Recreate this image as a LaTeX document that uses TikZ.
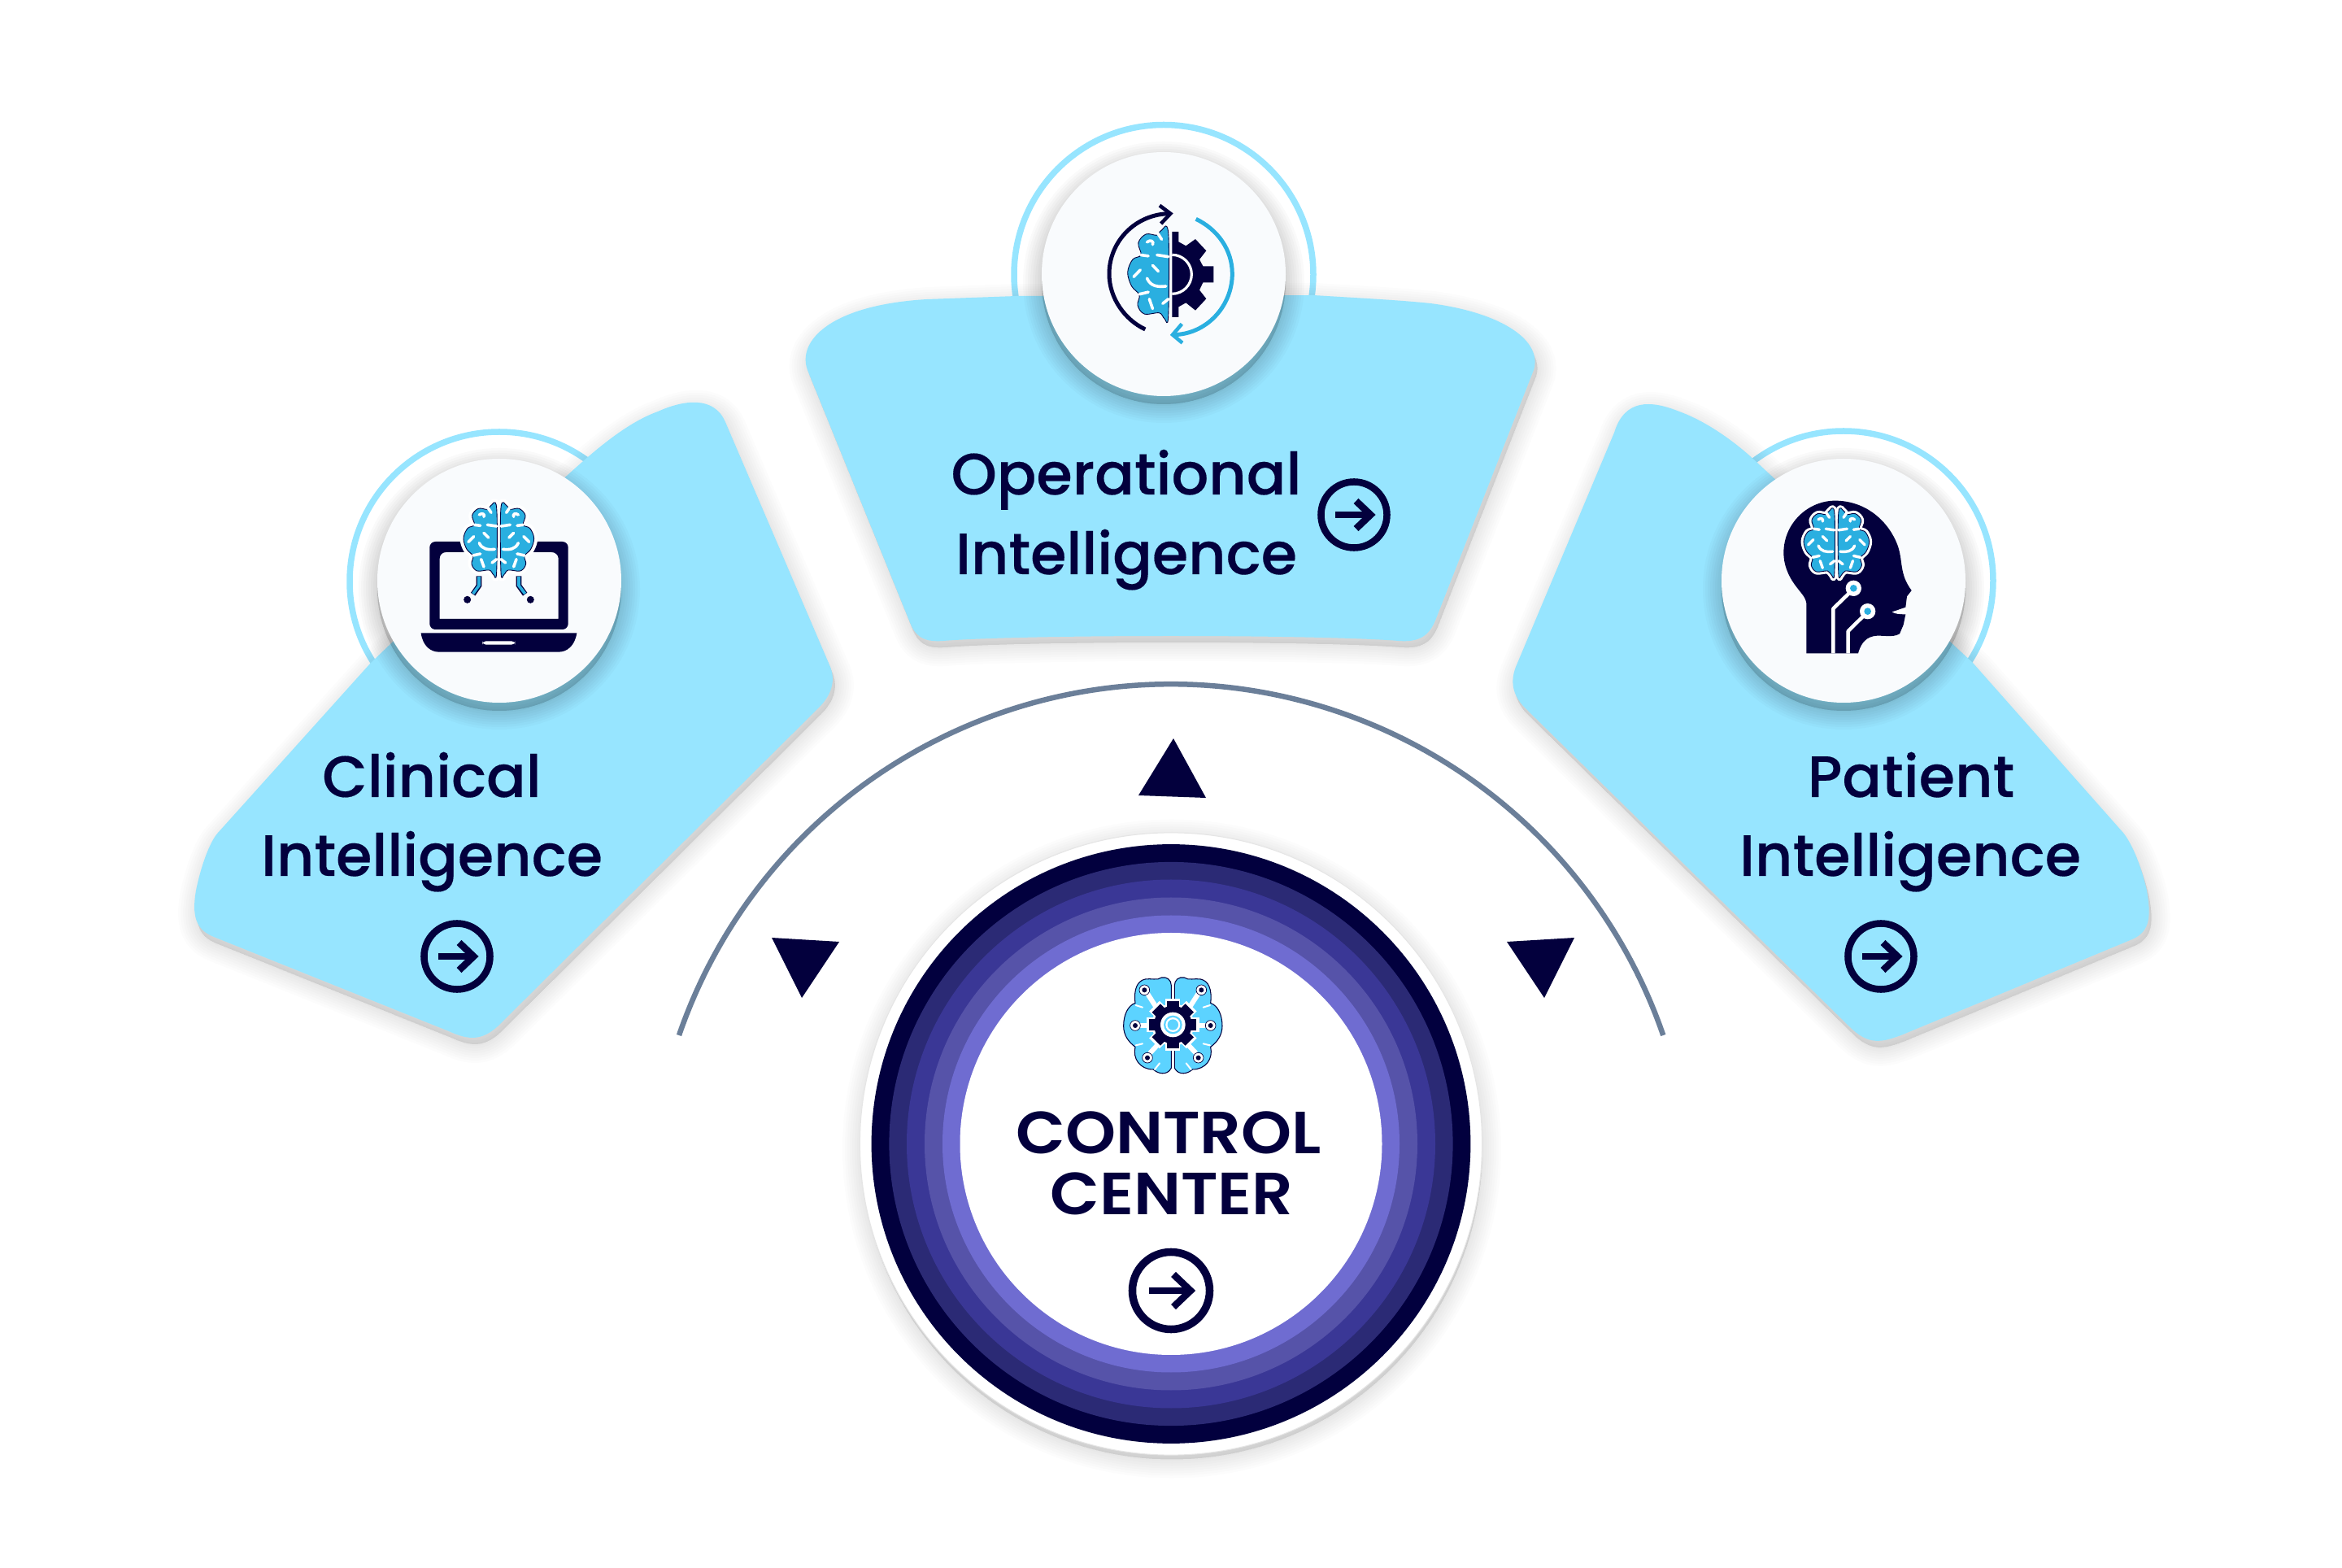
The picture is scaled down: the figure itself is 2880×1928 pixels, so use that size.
\documentclass[tikz,border=0pt]{standalone}
\usepackage{fontspec}
\setmainfont{Poppins}[UprightFont={* Medium},BoldFont={* SemiBold},UprightFeatures={FakeBold=0.25}]
\def\PX{0.28453pt}
\definecolor{navy}{HTML}{03003D}
\definecolor{sky}{HTML}{97E5FF}
\definecolor{paper}{HTML}{F9FBFD}
\definecolor{arcgray}{HTML}{6B7F99}
\definecolor{brainblue}{HTML}{2AAFE0}
\definecolor{brainlight}{HTML}{5CD3FF}
\definecolor{ringa}{HTML}{02003E}
\definecolor{ringb}{HTML}{2B2A75}
\definecolor{ringc}{HTML}{3A3796}
\definecolor{ringd}{HTML}{5653A9}
\definecolor{ringe}{HTML}{6F6CD1}
\tikzset{
  lbl/.style={anchor=base,text=navy,inner sep=0pt,font=\fontsize{20.4pt}{24pt}\selectfont},
  cclbl/.style={anchor=base,text=navy,inner sep=0pt,font=\fontsize{20.8pt}{24pt}\bfseries\selectfont},
  outerring/.style={draw=sky,line width=7.5*\PX,fill=white},
  disc/.style={fill=paper},
  btn/.style={circle,draw=navy,inner sep=0pt},
  wiggle/.style={white,line width=3.6*\PX,line cap=round,line join=round},
  arrowstroke/.style={navy,line width=#1*\PX,miter limit=10},
}
% ---- soft shadow: #1 path, #2 dx, #3 dy, #4 opacity
\newcommand\softshadow[4]{%
  \begin{scope}[shift={(#2,#3)}]
  \foreach \w in {46,40,34,28,22,16,10,4}{
    \filldraw[black,opacity=#4,line width=\w*\PX,line join=round] #1;
  }
  \end{scope}}
% ---- blob outlines
\newcommand\blobClin{(892,519) -- (1021,820) .. controls (1028,838) and (1022,855) .. (1007,870) -- (612,1262) .. controls (592,1280) and (576,1279) .. (552,1268) -- (263,1152) .. controls (240,1143) and (236,1125) .. (241,1095) .. controls (247,1065) and (258,1035) .. (268,1024) -- (456,815) -- (697,585) .. controls (730,555) and (770,520) .. (809,506) .. controls (840,492) and (878,486) .. (892,519) -- cycle}
\newcommand\blobOper{(993,455) .. controls (980,420) and (1020,375) .. (1140,368) -- (1250,364) -- (1615,363) .. controls (1680,367) and (1720,369) .. (1759,373) .. controls (1850,385) and (1897,420) .. (1886,455) -- (1765,763) .. controls (1757,782) and (1745,790) .. (1720,788) .. controls (1620,780) and (1260,780) .. (1160,788) .. controls (1135,790) and (1125,782) .. (1118,763) -- cycle}
\newcommand\blobPati{(1985,532) -- (1864,820) .. controls (1857,838) and (1860,855) .. (1875,870) -- (2274,1262) .. controls (2298,1286) and (2314,1282) .. (2340,1272) -- (2622,1155) .. controls (2645,1145) and (2645,1125) .. (2640,1095) .. controls (2632,1060) and (2620,1035) .. (2611,1024) -- (2426,815) -- (2161,569) .. controls (2125,535) and (2090,515) .. (2065,506) .. controls (2030,492) and (1998,490) .. (1985,532) -- cycle}
% ---- brain hemisphere, local coords: 3x-zoom units, mid line x=0
\newcommand\hemipath{plot[smooth cycle,tension=.6] coordinates {(-8,-118) (-30,-125) (-42,-112) (-75,-115) (-98,-90) (-90,-55) (-115,-42) (-130,-5) (-118,35) (-95,60) (-100,90) (-80,115) (-35,112) (-20,128) (-8,120)}}
\newcommand\hemisphere[1]{%
  \filldraw[fill=brainblue,draw=navy,line width=.25pt] \hemipath;
  \begin{scope}[wiggle,line width=#1*\PX]
    \draw (-72,-92) .. controls (-62,-100) and (-50,-95) .. (-55,-85);
    \draw (-90,-55) -- (-68,-52);
    \draw (-40,-118) -- (-28,-100);
    \draw (-42,-55) -- (-8,-50);
    \draw (-55,-25) -- (-38,-8);
    \draw (-112,8) -- (-92,-12);
    \draw (-72,12) .. controls (-62,35) and (-40,38) .. (-15,35);
    \draw (-95,58) -- (-68,52);
    \draw (-65,72) -- (-55,100);
    \draw (-25,85) -- (-8,72);
  \end{scope}}
% #1 x, #2 y, #3 scale, #4 halo (px), #5 wiggle width
\newcommand\brainboth[5]{%
  \begin{scope}[shift={(#1,#2)},scale=#3]
    \draw[white,line width=#4*\PX,line join=round] \hemipath;
    \begin{scope}[xscale=-1]\draw[white,line width=#4*\PX,line join=round] \hemipath;\end{scope}
    \fill[white] (-12,-110) rectangle (12,110);
    \hemisphere{#5}
    \begin{scope}[xscale=-1]\hemisphere{#5}\end{scope}
  \end{scope}}
\newcommand\arrowmark[3]{% x, y, unit
  \begin{scope}[shift={(#1,#2)},scale=#3]
    \draw[arrowstroke=8.5] (-27,0) -- (24,0);
    \draw[arrowstroke=8.5] (3,-20) -- (24,0) -- (3,20);
  \end{scope}}
\begin{document}
\begin{tikzpicture}[x=0.01cm,y=-0.01cm]
\useasboundingbox (0,0) rectangle (2880,1928);
\fill[white] (0,0) rectangle (2880,1928);
% outer rings
\draw[outerring] (1431,337.5) circle[radius=184];
\draw[outerring] (614,715) circle[radius=184];
\draw[outerring] (2267,714) circle[radius=184];
% blobs
\softshadow{\blobClin}{3}{8}{0.011}
\softshadow{\blobOper}{3}{8}{0.011}
\softshadow{\blobPati}{3}{8}{0.011}
\fill[sky] \blobClin;
\fill[sky] \blobOper;
\fill[sky] \blobPati;
% discs
\softshadow{(1431,337) circle[radius=150]}{0}{10}{0.02}
\softshadow{(614,714) circle[radius=150]}{0}{10}{0.02}
\softshadow{(2267,714) circle[radius=150]}{0}{10}{0.02}
\fill[disc] (1431,337) circle[radius=150];
\fill[disc] (614,714) circle[radius=150];
\fill[disc] (2267,714) circle[radius=150];

% ---------- laptop icon
\begin{scope}[shift={(420,520)},scale=1/3]
  \fill[navy,rounded corners=2pt,even odd rule] (325,762) -- (325,438) -- (836,438) -- (836,762) -- cycle
     [sharp corners] (362,723) -- (800,723) -- (800,500) to[out=90,in=0] (775,477) -- (385,477) to[out=180,in=90] (362,500) -- cycle;
  \fill[navy] (293,775) -- (868,775) .. controls (860,825) and (830,845) .. (800,845) -- (360,845) .. controls (330,845) and (300,825) .. (293,775) -- cycle;
  \fill[white,rounded corners=1.2pt] (520,805) rectangle (640,818);
  \brainboth{580}{431}{1}{9}{3.6}
  \draw[navy,line width=6.5*\PX] (507,565) -- (507,600) -- (485,632);
  \draw[brainblue,line width=3.6*\PX] (507,567) -- (507,600) -- (485,630);
  \draw[navy,line width=6.5*\PX] (654,565) -- (654,600) -- (677,632);
  \draw[brainblue,line width=3.6*\PX] (654,567) -- (654,600) -- (677,630);
  \fill[navy] (464,652) circle[radius=13.5];
  \fill[navy] (697,652) circle[radius=13.5];
\end{scope}

% ---------- gear and brain icon
\begin{scope}[shift={(1240,140)},scale=1/3]
  \draw[navy,line width=5*\PX] (505,795) .. controls (430,760) and (372,680) .. (372,590) .. controls (372,470) and (470,368) .. (598,368);
  \draw[navy,line width=4.5*\PX,miter limit=10] (558,338) -- (598,368) -- (563,405);
  \draw[brainblue,line width=5*\PX] (692,388) .. controls (770,425) and (826,500) .. (826,590) .. controls (826,710) and (730,815) .. (606,815);
  \draw[brainblue,line width=4.5*\PX,miter limit=10] (640,775) -- (606,815) -- (642,845);
  \fill[navy] (604,435) -- (628,435) -- (628,472) -- (655,487) -- (690,462) -- (730,505) -- (705,537) -- (718,562) -- (757,562) -- (757,622) -- (718,622) -- (705,650) -- (730,682) -- (690,725) -- (655,697) -- (628,712) -- (628,750) -- (604,750) -- cycle;
  \draw[white,line width=3.2*\PX] (604,520) arc[start angle=-90,end angle=90,radius=72];
  \begin{scope}[shift={(600,591)},xscale=1.23,yscale=1.28]
    \hemisphere{3.6}
  \end{scope}
\end{scope}

% ---------- head icon
\begin{scope}[shift={(2100,520)},scale=1/3]
  \fill[navy] (364,850) -- (364,665) .. controls (360,640) and (345,630) .. (320,595) .. controls (295,560) and (280,520) .. (280,480) .. controls (280,370) and (370,287) .. (470,287) .. controls (590,287) and (670,370) .. (700,450) .. controls (722,510) and (705,555) .. (752,618) -- (735,640) -- (730,680) -- (680,697) -- (730,706) -- (722,745) -- (708,778) .. controls (680,795) and (640,780) .. (610,787) .. controls (575,795) and (562,825) .. (555,850) -- cycle;
  \fill[white] (680,697) .. controls (695,695) and (715,690) .. (730,684) -- (730,706) .. controls (710,706) and (690,705) .. (680,697) -- cycle;
  \draw[white,line width=4.4*\PX,line join=round] (463,850) -- (463,685) -- (530,620);
  \draw[white,line width=4.4*\PX,line join=round] (518,850) -- (518,768) -- (582,705);
  \fill[white] (538,610) circle[radius=29];
  \fill[brainblue] (538,610) circle[radius=13];
  \fill[white] (590,695) circle[radius=29];
  \fill[brainblue] (590,695) circle[radius=13];
  \brainboth{475}{442}{.93}{7}{3.4}
\end{scope}

% ---------- connector arc and triangles
\coordinate (arcL) at (835,1273);
\draw[arcgray,line width=6.5*\PX] (arcL) arc[start angle=-161,end angle=-19,radius=640];
\fill[navy] (1443,908) -- (1400,978) -- (1483,981) -- cycle;
\fill[navy] (949,1153) -- (1032,1158) -- (986,1227) -- cycle;
\fill[navy] (1936,1153) -- (1853,1158) -- (1899,1227) -- cycle;

% ---------- control center
\softshadow{(1440,1406.5) circle[radius=382]}{1}{6}{0.013}
\filldraw[fill=white,draw=black!10!white,line width=1*\PX] (1440,1406.5) circle[radius=382.6];
\fill[ringa] (1440,1406.5) circle[radius=368.4];
\fill[ringb] (1440,1406.5) circle[radius=346.6];
\fill[ringc] (1440,1406.5) circle[radius=325];
\fill[ringd] (1440,1406.5) circle[radius=303];
\fill[ringe] (1440,1406.5) circle[radius=281];
\fill[white] (1440,1406.5) circle[radius=259.5];

% ---------- control center brain
\begin{scope}[shift={(1340,1180)},scale=1/3]
  \foreach \m in {0,1}{
    \begin{scope}[shift={(\m*614,0)},xscale=1-2*\m]
      \filldraw[fill=brainlight,draw=navy,line width=.3pt] (301,95) .. controls (301,75) and (285,62) .. (265,66) .. controls (250,78) and (225,68) .. (205,72) .. controls (175,78) and (162,110) .. (168,160) .. controls (140,170) and (125,205) .. (125,245) .. controls (125,280) and (145,305) .. (168,322) .. controls (158,365) and (185,405) .. (235,405) .. controls (250,420) and (285,430) .. (301,400) -- cycle;
      \draw[white,line width=2*\PX,line cap=round] (170,168) -- (195,176);
      \draw[white,line width=2*\PX,line cap=round] (170,316) -- (195,310);
      \draw[white,line width=2*\PX,line cap=round] (240,405) -- (258,382);
      \draw[white,line width=6*\PX,line cap=round] (213,125) -- (245,175);
      \draw[white,line width=6*\PX] (182,243) -- (225,243);
      \draw[white,line width=6*\PX] (222,345) -- (250,315);
      \filldraw[fill=white,draw=navy,line width=.2pt] (202,112) circle[radius=19];
      \fill[navy] (202,112) circle[radius=9];
      \filldraw[fill=white,draw=navy,line width=.2pt] (168,243) circle[radius=19];
      \fill[navy] (168,243) circle[radius=9];
      \filldraw[fill=white,draw=navy,line width=.2pt] (213,362) circle[radius=19];
      \fill[navy] (213,362) circle[radius=9];
    \end{scope}
  }
  \foreach \a in {0,45,...,315}{
    \fill[white,rotate around={\a:(307,240)}] (280,143) rectangle (334,240);
  }
  \fill[white] (307,240) circle[radius=78];
  \foreach \a in {0,45,...,315}{
    \fill[navy,rotate around={\a:(307,240)}] (285,153) rectangle (329,240);
  }
  \fill[navy] (307,240) circle[radius=70];
  \fill[white] (307,240) circle[radius=46];
  \fill[brainlight] (307,240) circle[radius=34];
  \fill[white] (307,240) circle[radius=27];
  \fill[brainlight] (307,240) circle[radius=20];
\end{scope}

% ---------- labels
\node[lbl] (oper1) at (1385,608) {Operational};
\node[lbl] (oper2) at (1385,706) {Intelligence};
\node[lbl] (clin1) at (531,980) {Clinical};
\node[lbl] (clin2) at (531,1077) {Intelligence};
\node[lbl] (pati1) at (2350,980) {Patient};
\node[lbl] (pati2) at (2349,1077) {Intelligence};
\node[cclbl] (ctl1) at (1437,1419) {\scalebox{1.08}[1]{CONTROL}};
\node[cclbl] (ctl2) at (1441,1494) {\scalebox{1.08}[1]{CENTER}};
% ---------- arrow buttons
\node[btn,line width=8.5*\PX,minimum size=81*\PX] (btnO) at (1665,633) {};
\node[btn,line width=8.5*\PX,minimum size=81*\PX] (btnC) at (562,1176) {};
\node[btn,line width=8.5*\PX,minimum size=81*\PX] (btnP) at (2313,1176) {};
\node[btn,line width=9.5*\PX,minimum size=95*\PX] (btnM) at (1440,1587) {};
\arrowmark{1665}{633}{.85}
\arrowmark{562}{1176}{.85}
\arrowmark{2313}{1176}{.85}
\arrowmark{1440}{1587}{1}
\end{tikzpicture}
\end{document}
